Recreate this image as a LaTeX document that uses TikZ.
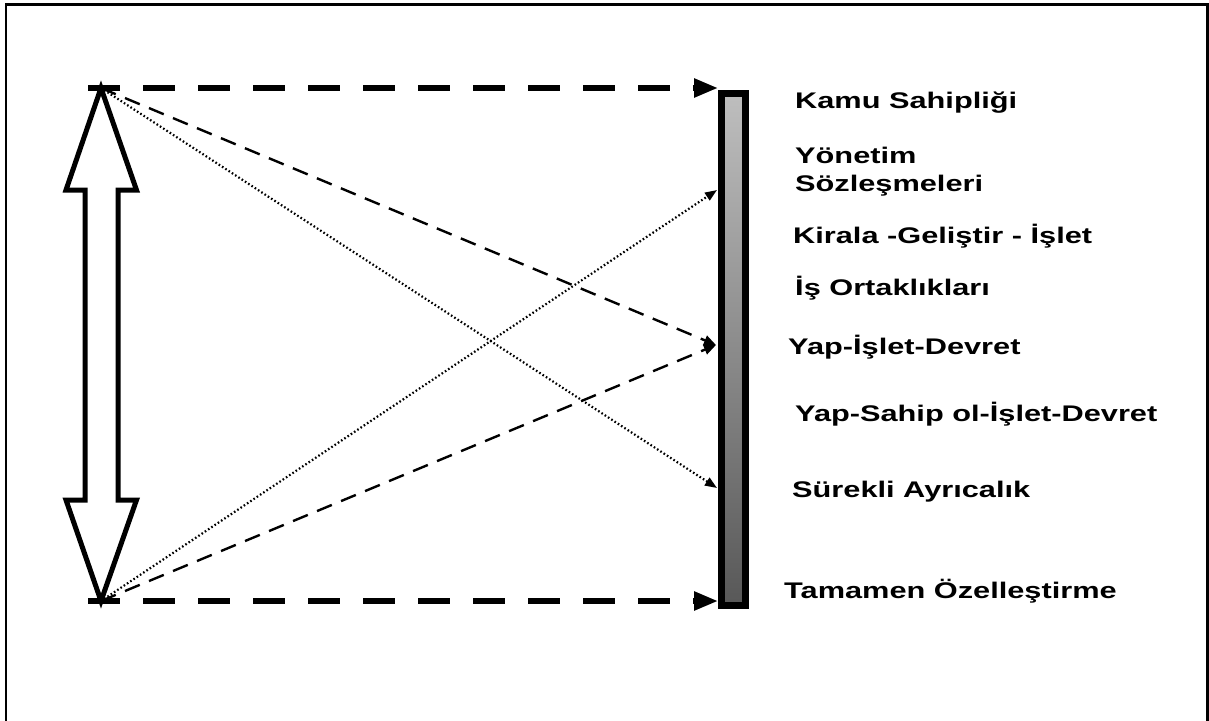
\documentclass[tikz,border=0pt]{standalone}
\usepackage{fontspec}
\newfontfamily\labfont{Liberation Sans}[FakeStretch=1.36]
\usetikzlibrary{arrows.meta}
\definecolor{barTop}{RGB}{190,190,190}
\definecolor{barBot}{RGB}{88,88,88}
\tikzset{
  bigdash/.style={line width=5.5, dash pattern=on 32pt off 23pt, -{Triangle[length=24pt,width=18pt]}},
  thindash/.style={line width=2.4, dash pattern=on 16pt off 10pt, -{Triangle[length=12pt,width=10pt]}},
  thindot/.style={line width=2.2, dash pattern=on 1.6pt off 2.3pt, -{Triangle[length=12pt,width=9pt]}},
  lab/.style={anchor=base west, inner sep=0, font=\labfont\bfseries\fontsize{22.6}{24}\selectfont},
  barbox/.style={draw, line width=7, minimum width=24, minimum height=512, inner sep=0,
    top color=barTop, bottom color=barBot},
  dblarrow/.style={line width=5, miter limit=20, fill=white}
}
\begin{document}
\begin{tikzpicture}[x=1pt,y=-1pt]
\useasboundingbox (0,0) rectangle (1209,720);
\draw[line width=2.5] (6,740) -- (6,4.5) -- (1207.5,4.5) -- (1207.5,740);

% double arrow
\coordinate (T) at (101,88);
\coordinate (B) at (101,601);
\draw[dblarrow] (T) -- (136.5,190) -- (118,190) -- (118,500) -- (136.5,500) -- (B)
  -- (66,500) -- (85,500) -- (85,190) -- (66,190) -- cycle;

% bar
\node[barbox] (bar) at (733.5,349.5) {};

% targets on the bar
\coordinate (pYon) at (717,190);
\coordinate (pYid) at (716,345);
\coordinate (pSur) at (717,488);

% connectors
\draw[bigdash, shorten <=-13pt] (T) -- (T -| bar.west);
\draw[bigdash, shorten <=-13pt] (B) -- (B -| bar.west);
\draw[thindash] (T) -- (pYid);
\draw[thindash] (B) -- (pYid);
\draw[thindot] (T) -- (pSur);
\draw[thindot] (B) -- (pYon);

% labels
\node[lab] (l1) at (795,108) {Kamu Sahipliği};
\node[lab] (l2a) at (795,163) {Yönetim};
\node[lab] (l2b) at (795,191) {Sözleşmeleri};
\node[lab] (l3) at (793,243) {Kirala -Geliştir - İşlet};
\node[lab] (l4) at (795,295) {İş Ortaklıkları};
\node[lab] (l5) at (788,354) {Yap-İşlet-Devret};
\node[lab] (l6) at (795,421) {Yap-Sahip ol-İşlet-Devret};
\node[lab] (l7) at (792,497) {Sürekli Ayrıcalık};
\node[lab] (l8) at (784,598) {Tamamen Özelleştirme};
\end{tikzpicture}
\end{document}
